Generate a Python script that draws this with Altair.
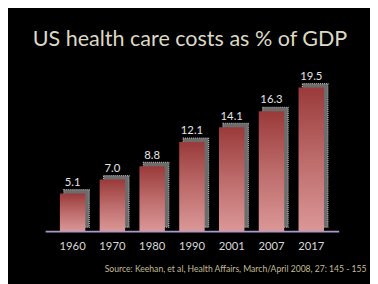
import altair as alt
import pandas as pd

years = ["1960", "1970", "1980", "1990", "2001", "2007", "2017"]
values = [5.1, 7.0, 8.8, 12.1, 14.1, 16.3, 19.5]
labels = ["5.1", "7.0", "8.8", "12.1", "14.1", "16.3", "19.5"]

df = pd.DataFrame({"year": years, "value": values, "label": labels})

x = alt.X("year:N", sort=years,
          scale=alt.Scale(paddingInner=0.36, paddingOuter=0.37),
          axis=alt.Axis(title="Source:  Keehan, et al, Health Affairs, March/April 2008, 27: 145 - 155",
                        titleFont="Lato", titleFontSize=8.8, titleFontWeight="normal",
                        titleColor="#c4bd97", titleAlign="right", titleBaseline="middle",
                        titleAnchor="end", titleX=328, titleY=38,
                        labelAngle=0, labelFont="Lato", labelFontSize=11.5,
                        labelColor="#d9d9d9", labelPadding=10, ticks=False,
                        domainColor="#a99cc9", domainWidth=2, grid=False))
y = alt.Y("value:Q", scale=alt.Scale(domain=[0, 23], nice=False), axis=None)

base = alt.Chart(df)

shadow = base.mark_bar(xOffset=4, x2Offset=4, yOffset=-4, y2Offset=-4,
                       color="#6c6c6c", stroke="#b4b4b4", strokeWidth=1.2,
                       strokeDash=[1, 1]).encode(x=x, y=y)

bars = base.mark_bar(color=alt.Gradient(
    gradient="linear",
    stops=[alt.GradientStop(color="#9a3a3a", offset=0),
           alt.GradientStop(color="#bd6b6b", offset=0.5),
           alt.GradientStop(color="#db9797", offset=1)],
    x1=0, x2=0, y1=0, y2=1)).encode(x=x, y=y)

text = base.mark_text(baseline="bottom", dy=-6, font="Lato", fontSize=11.5,
                      color="#e6e6e6").encode(x=x, y=y, text="label:N")

chart = alt.layer(shadow, bars, text).properties(
    width=300, height=173,
    autosize=alt.AutoSizeParams(type="none"),
    padding={"left": 38, "top": 52, "right": 32, "bottom": 51},
    background="black",
    title=alt.TitleParams("US health care costs as % of GDP", font="Lato",
                          fontSize=22, fontWeight="normal", color="#ddd9c3",
                          anchor="middle", offset=11, dx=-2),
).configure_view(stroke=None)

chart.save("out.html", embed_options={"renderer": "svg", "actions": False})
